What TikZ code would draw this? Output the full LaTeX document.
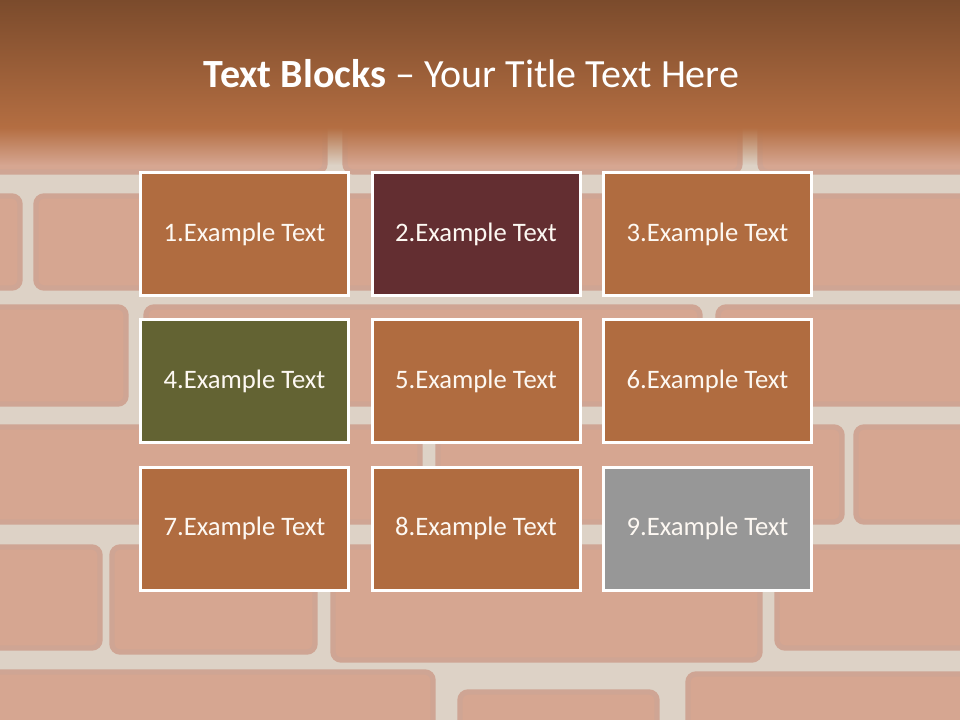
\documentclass[tikz,border=0pt]{standalone}
\usepackage{fontspec}
\setmainfont{Carlito}
\usetikzlibrary{fadings}
\tikzfading[name=fadedown, top color=transparent!0, bottom color=transparent!100]
\definecolor{mortar}{HTML}{DDD2C6}
\definecolor{brick}{HTML}{D6A691}
\definecolor{brickedge}{HTML}{CFA594}
\definecolor{bandtop}{HTML}{7B4B2C}
\definecolor{bandbot}{HTML}{B46E42}
\definecolor{boxorange}{HTML}{B06C40}
\definecolor{boxmaroon}{HTML}{632E31}
\definecolor{boxolive}{HTML}{636333}
\definecolor{boxgray}{HTML}{979797}
\definecolor{boxtext}{HTML}{FDF8F2}
\tikzset{
  brickshape/.style={fill=brick, draw=brickedge, line width=4pt, rounded corners=6pt},
  blockbox/.style={draw=white, line width=2.25pt, minimum width=156pt, minimum height=92.25pt,
    inner sep=0pt, outer sep=0pt, text=boxtext, font=\fontsize{20}{24}\selectfont},
  titletext/.style={text=white, font=\fontsize{30}{36}\selectfont, inner sep=0pt}
}
\begin{document}
\begin{tikzpicture}[x=0.75pt,y=-0.75pt]
\useasboundingbox (0,0) rectangle (960,720);
% wall
\fill[mortar] (0,0) rectangle (960,720);
\foreach \a/\b/\c/\d in {
  -20/60/325/172, 345/60/740/172, 760/60/980/172,
  -20/196/20/288, 36/196/520/288, 538/196/980/288,
  -20/307/126/404, 146/307/700/404, 718/307/980/404,
  -20/427/420/522, 438/427/842/522, 856/427/980/522,
  -20/547/100/648, 112/547/315/652, 333/547/760/660, 777/547/980/648,
  -20/672/433/760, 460/692/657/760, 688/674/980/760}
  \draw[brickshape] (\a,\b) rectangle (\c,\d);
% top band
\shade[top color=bandtop, bottom color=bandbot] (0,0) rectangle (960,128);
\fill[bandbot, path fading=fadedown] (0,127.5) rectangle (960,165);
% title
\node[titletext, anchor=base] (title) at (471.5,88) {\textbf{Text Blocks} – Your Title Text Here};
% blocks
\node[blockbox, fill=boxorange] (b1) at (244.5,234) {1.Example Text};
\node[blockbox, fill=boxmaroon] (b2) at (476,234) {2.Example Text};
\node[blockbox, fill=boxorange] (b3) at (707.5,234) {3.Example Text};
\node[blockbox, fill=boxolive] (b4) at (244.5,381) {4.Example Text};
\node[blockbox, fill=boxorange] (b5) at (476,381) {5.Example Text};
\node[blockbox, fill=boxorange] (b6) at (707.5,381) {6.Example Text};
\node[blockbox, fill=boxorange] (b7) at (244.5,528.5) {7.Example Text};
\node[blockbox, fill=boxorange] (b8) at (476,528.5) {8.Example Text};
\node[blockbox, fill=boxgray] (b9) at (707.5,528.5) {9.Example Text};
\end{tikzpicture}
\end{document}
